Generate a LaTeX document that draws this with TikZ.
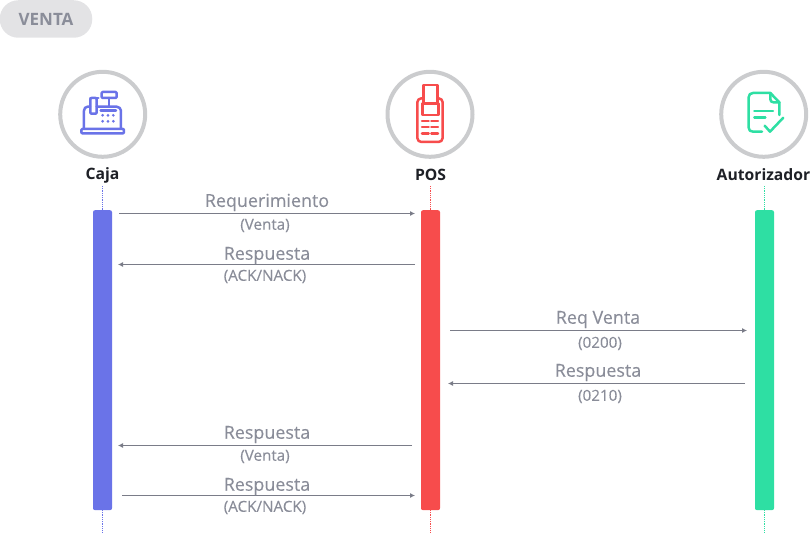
\documentclass[tikz,border=0pt]{standalone}
\usepackage{fontspec}
\setmainfont{Open Sans}
\newfontfamily\msgfont[FakeBold=0.25]{Open Sans}
\definecolor{cajac}{HTML}{6A73E8}
\definecolor{posc}{HTML}{F74C4C}
\definecolor{autc}{HTML}{2EDFA3}
\definecolor{ringc}{HTML}{CBCCCE}
\definecolor{textc}{HTML}{8A8D99}
\definecolor{arrc}{HTML}{7A7C88}
\definecolor{pillc}{HTML}{E3E3E5}
\definecolor{titlec}{HTML}{1E2026}
\tikzset{
  ring/.style={circle,draw=ringc,line width=4pt,minimum size=85pt,inner sep=0pt,fill=white},
  actor/.style={font=\fontsize{15.7}{17}\selectfont\bfseries,text=titlec,inner sep=0pt,anchor=center},
  lifebar/.style={rounded corners=2pt,minimum width=19pt,minimum height=300pt,inner sep=0pt,anchor=north},
  life/.style={densely dotted,line width=0.8pt},
  msg/.style={draw=arrc,line width=0.8pt,-{Latex[length=5pt,width=5pt]}},
  big/.style={font=\msgfont\fontsize{17.9}{19}\selectfont,text=textc,inner sep=0pt},
  small/.style={font=\msgfont\fontsize{15.2}{16}\selectfont,text=textc,inner sep=0pt},
  ico/.style={line width=2.5pt,line join=round,line cap=round}
}
\usetikzlibrary{arrows.meta}
\begin{document}
\begin{tikzpicture}[x=1pt,y=-1pt]
\useasboundingbox (0,0) rectangle (812,535);
% title pill
\node[fill=pillc,rounded corners=18.5pt,minimum width=92.5pt,minimum height=37.5pt,inner sep=0pt,
      font=\fontsize{17}{18}\selectfont\bfseries,text=textc] (pill) at (46,19) {VENTA};
% rings
\node[ring] (rcaja) at (102.7,114.3) {};
\node[ring] (rpos) at (430,114.3) {};
\node[ring] (raut) at (763.7,114.3) {};
% labels
\node[actor] (caja) at (102.5,175) {Caja};
\node[actor] (pos) at (430.5,175) {POS};
\node[actor] (aut) at (763.5,175) {Autorizador};
% lifeline ends
\coordinate (c1) at (102.5,186); \coordinate (c2) at (102.5,533);
\coordinate (p1) at (430.5,186); \coordinate (p2) at (430.5,533);
\coordinate (a1) at (764.5,186); \coordinate (a2) at (764.5,533);
\draw[life,draw=cajac] (c1)--(c2);
\draw[life,draw=posc] (p1)--(p2);
\draw[life,draw=autc] (a1)--(a2);
% bars
\node[lifebar,fill=cajac] (bcaja) at (102.5,210) {};
\node[lifebar,fill=posc] (bpos) at (430.5,210) {};
\node[lifebar,fill=autc] (baut) at (764.5,210) {};
% message ends
\coordinate (m1a) at (119,213.5); \coordinate (m1b) at (415,213.5);
\coordinate (m2a) at (415,264.5); \coordinate (m2b) at (118,264.5);
\coordinate (m3a) at (450,330.5); \coordinate (m3b) at (747,330.5);
\coordinate (m4a) at (745,383.5); \coordinate (m4b) at (448,383.5);
\coordinate (m5a) at (412,445.5); \coordinate (m5b) at (118,445.5);
\coordinate (m6a) at (122,495.5); \coordinate (m6b) at (415,495.5);
\draw[msg] (m1a)--(m1b);
\draw[msg] (m2a)--(m2b);
\draw[msg] (m3a)--(m3b);
\draw[msg] (m4a)--(m4b);
\draw[msg] (m5a)--(m5b);
\draw[msg] (m6a)--(m6b);
% message labels
\node[big] (t1) at (267,202.5) {Requerimiento};
\node[small] (s1) at (265,225.5) {(Venta)};
\node[big] (t2) at (267,255.5) {Respuesta};
\node[small] (s2) at (265,276.5) {(ACK/NACK)};
\node[big] (t3) at (598,319.5) {Req Venta};
\node[small] (s3) at (600,343.5) {(0200)};
\node[big] (t4) at (598,372.5) {Respuesta};
\node[small] (s4) at (600,396.5) {(0210)};
\node[big] (t5) at (267,434.5) {Respuesta};
\node[small] (s5) at (265,456.5) {(Venta)};
\node[big] (t6) at (267,486.5) {Respuesta};
\node[small] (s6) at (265,507.5) {(ACK/NACK)};
% caja icon
\begin{scope}[shift={(50,60)},x=0.3333pt,y=-0.3333pt,draw=cajac,fill=cajac,ico]
\draw (120,140) -- (113,140) .. controls (106,140) and (102,146) .. (102,152) -- (102,206);
\draw (140,140) -- (200,140) .. controls (207,140) and (213,146) .. (213,152) -- (213,206);
\draw[rounded corners=1pt] (94,207) rectangle (222,220);
\draw[rounded corners=1pt] (121,114) rectangle (140,161);
\draw (121,114) -- (145,114);
\draw (152,151) -- (198,151);
\draw[rounded corners=1pt] (155,96) rectangle (200,114);
\draw (177,114) -- (177,140);
\foreach \yy in {166,184} \foreach \xx in {158,174,190}
  \fill (\xx,\yy) circle (4.5);
\end{scope}
% pos icon
\begin{scope}[shift={(380,60)},x=0.3333pt,y=-0.3333pt,draw=posc,ico]
\draw[rounded corners=4pt] (130,115) -- (112,115) -- (112,246) -- (188,246) -- (188,115) -- (172,115);
\draw (130,130) -- (130,75) -- (172,75) -- (172,130);
\draw (127,130) rectangle (175,165);
\foreach \yy in {183,201,220} {
  \draw (126,\yy) -- (146,\yy);
  \draw (154,\yy) -- (174,\yy);
}
\end{scope}
% autorizador icon
\begin{scope}[shift={(702,60)},x=0.3333pt,y=-0.3333pt,draw=autc,ico]
\draw (205,99) -- (153,99) .. controls (145,99) and (140,104) .. (140,112) -- (140,203) .. controls (140,211) and (145,215) .. (153,215) -- (180,215);
\draw (205,99) -- (232,127) -- (232,165);
\draw (205,99) -- (205,118) .. controls (205,124) and (209,127) .. (215,127) -- (232,127);
\draw (157,153) -- (213,153);
\draw (157,172) -- (190,172);
\draw (188,197) -- (204,215) -- (244,173);
\end{scope}
\end{tikzpicture}
\end{document}
